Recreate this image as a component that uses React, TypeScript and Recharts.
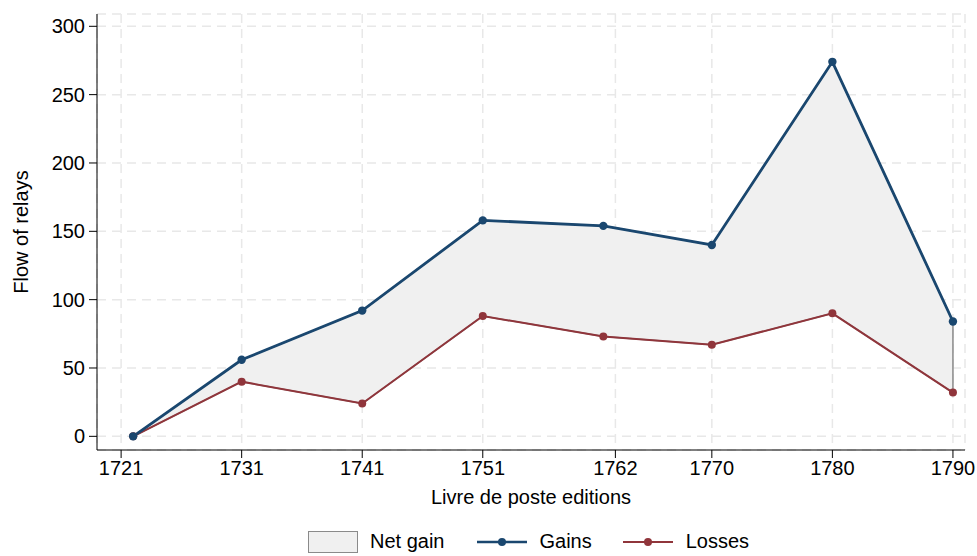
import {
  ComposedChart,
  Area,
  Line,
  XAxis,
  YAxis,
  CartesianGrid,
  Legend,
  ReferenceLine,
} from 'recharts';

const years = [1722, 1731, 1741, 1751, 1761, 1770, 1780, 1790];
const gains = [0, 56, 92, 158, 154, 140, 274, 84];
const losses = [0, 40, 24, 88, 73, 67, 90, 32];
const tickYears = [1721, 1731, 1741, 1751, 1762, 1770, 1780, 1790];
const yTicks = [0, 50, 100, 150, 200, 250, 300];

const data = years.map((year, i) => ({ year, gains: gains[i], losses: losses[i] }));

const BLUE = '#1a476f';
const RED = '#90353b';
const FILL = '#f0f0f0';
const OUTLINE = '#8a8a8a';
const FONT = '"Liberation Sans", Arial, Helvetica, sans-serif';

const lastYear = years[years.length - 1];

const LegendContent = () => (
  <div
    style={{
      display: 'flex',
      alignItems: 'flex-end',
      boxSizing: 'border-box',
      height: 46,
      paddingLeft: 308,
      paddingBottom: 3,
      fontFamily: FONT,
      fontSize: 20,
      color: '#000',
    }}
  >
    <div style={{ display: 'flex', alignItems: 'center', height: 23 }}>
      <div style={{ width: 48, height: 20, background: FILL, border: `1.5px solid ${OUTLINE}` }} />
      <span style={{ marginLeft: 12 }}>Net gain</span>
      <svg width={50} height={10} style={{ marginLeft: 32 }}>
        <line x1={0} y1={5} x2={50} y2={5} stroke={BLUE} strokeWidth={2.5} />
        <circle cx={25} cy={5} r={4} fill={BLUE} />
      </svg>
      <span style={{ marginLeft: 13 }}>Gains</span>
      <svg width={50} height={10} style={{ marginLeft: 31 }}>
        <line x1={0} y1={5} x2={50} y2={5} stroke={RED} strokeWidth={2} />
        <circle cx={25} cy={5} r={4} fill={RED} />
      </svg>
      <span style={{ marginLeft: 13 }}>Losses</span>
    </div>
  </div>
);

export default function App() {
  return (
    <div style={{ position: 'absolute', left: 0, top: 0, background: '#fff' }}>
      <ComposedChart
        width={977}
        height={556}
        data={data}
        margin={{ top: 14, right: 12, left: 0, bottom: 0 }}
        style={{ fontFamily: FONT }}
      >
        <CartesianGrid stroke="#e8e8e8" strokeDasharray="9 6" strokeWidth={1.5} />
        <XAxis
          dataKey="year"
          type="number"
          domain={[1719, 1791]}
          ticks={tickYears}
          allowDataOverflow
          tickSize={8}
          tickMargin={3}
          stroke="#000"
          tick={{ fill: '#000', fontSize: 20 }}
          height={60}
          label={{ value: 'Livre de poste editions', position: 'insideBottom', offset: 6, fill: '#000', fontSize: 20 }}
        />
        <XAxis
          xAxisId="top"
          orientation="top"
          type="number"
          domain={[1719, 1791]}
          height={0}
          tick={false}
          tickLine={false}
          stroke="#000"
        />
        <YAxis
          type="number"
          domain={[-10, 309]}
          ticks={yTicks}
          allowDataOverflow
          width={97}
          tickSize={8}
          tickMargin={4}
          stroke="#000"
          tick={{ fill: '#000', fontSize: 20 }}
          label={{ value: 'Flow of relays', angle: -90, position: 'center', dx: -28, fill: '#000', fontSize: 20 }}
        />
        <YAxis
          yAxisId="right"
          orientation="right"
          width={0}
          tick={false}
          tickLine={false}
          stroke="#000"
        />
        <Area
          type="linear"
          dataKey={(d: { gains: number; losses: number }) => [d.losses, d.gains]}
          name="Net gain"
          fill={FILL}
          fillOpacity={1}
          stroke={OUTLINE}
          strokeWidth={1.5}
          isAnimationActive={false}
        />
        <ReferenceLine
          segment={[
            { x: lastYear, y: losses[losses.length - 1] },
            { x: lastYear, y: gains[gains.length - 1] },
          ]}
          stroke={OUTLINE}
          strokeWidth={1.5}
        />
        <Line
          type="linear"
          dataKey="losses"
          name="Losses"
          stroke={RED}
          strokeWidth={2}
          dot={{ r: 4, fill: RED, stroke: RED, strokeWidth: 0 }}
          isAnimationActive={false}
        />
        <Line
          type="linear"
          dataKey="gains"
          name="Gains"
          stroke={BLUE}
          strokeWidth={2.8}
          dot={{ r: 4.2, fill: BLUE, stroke: BLUE, strokeWidth: 0 }}
          isAnimationActive={false}
        />
        <Legend verticalAlign="bottom" content={<LegendContent />} />
      </ComposedChart>
    </div>
  );
}
